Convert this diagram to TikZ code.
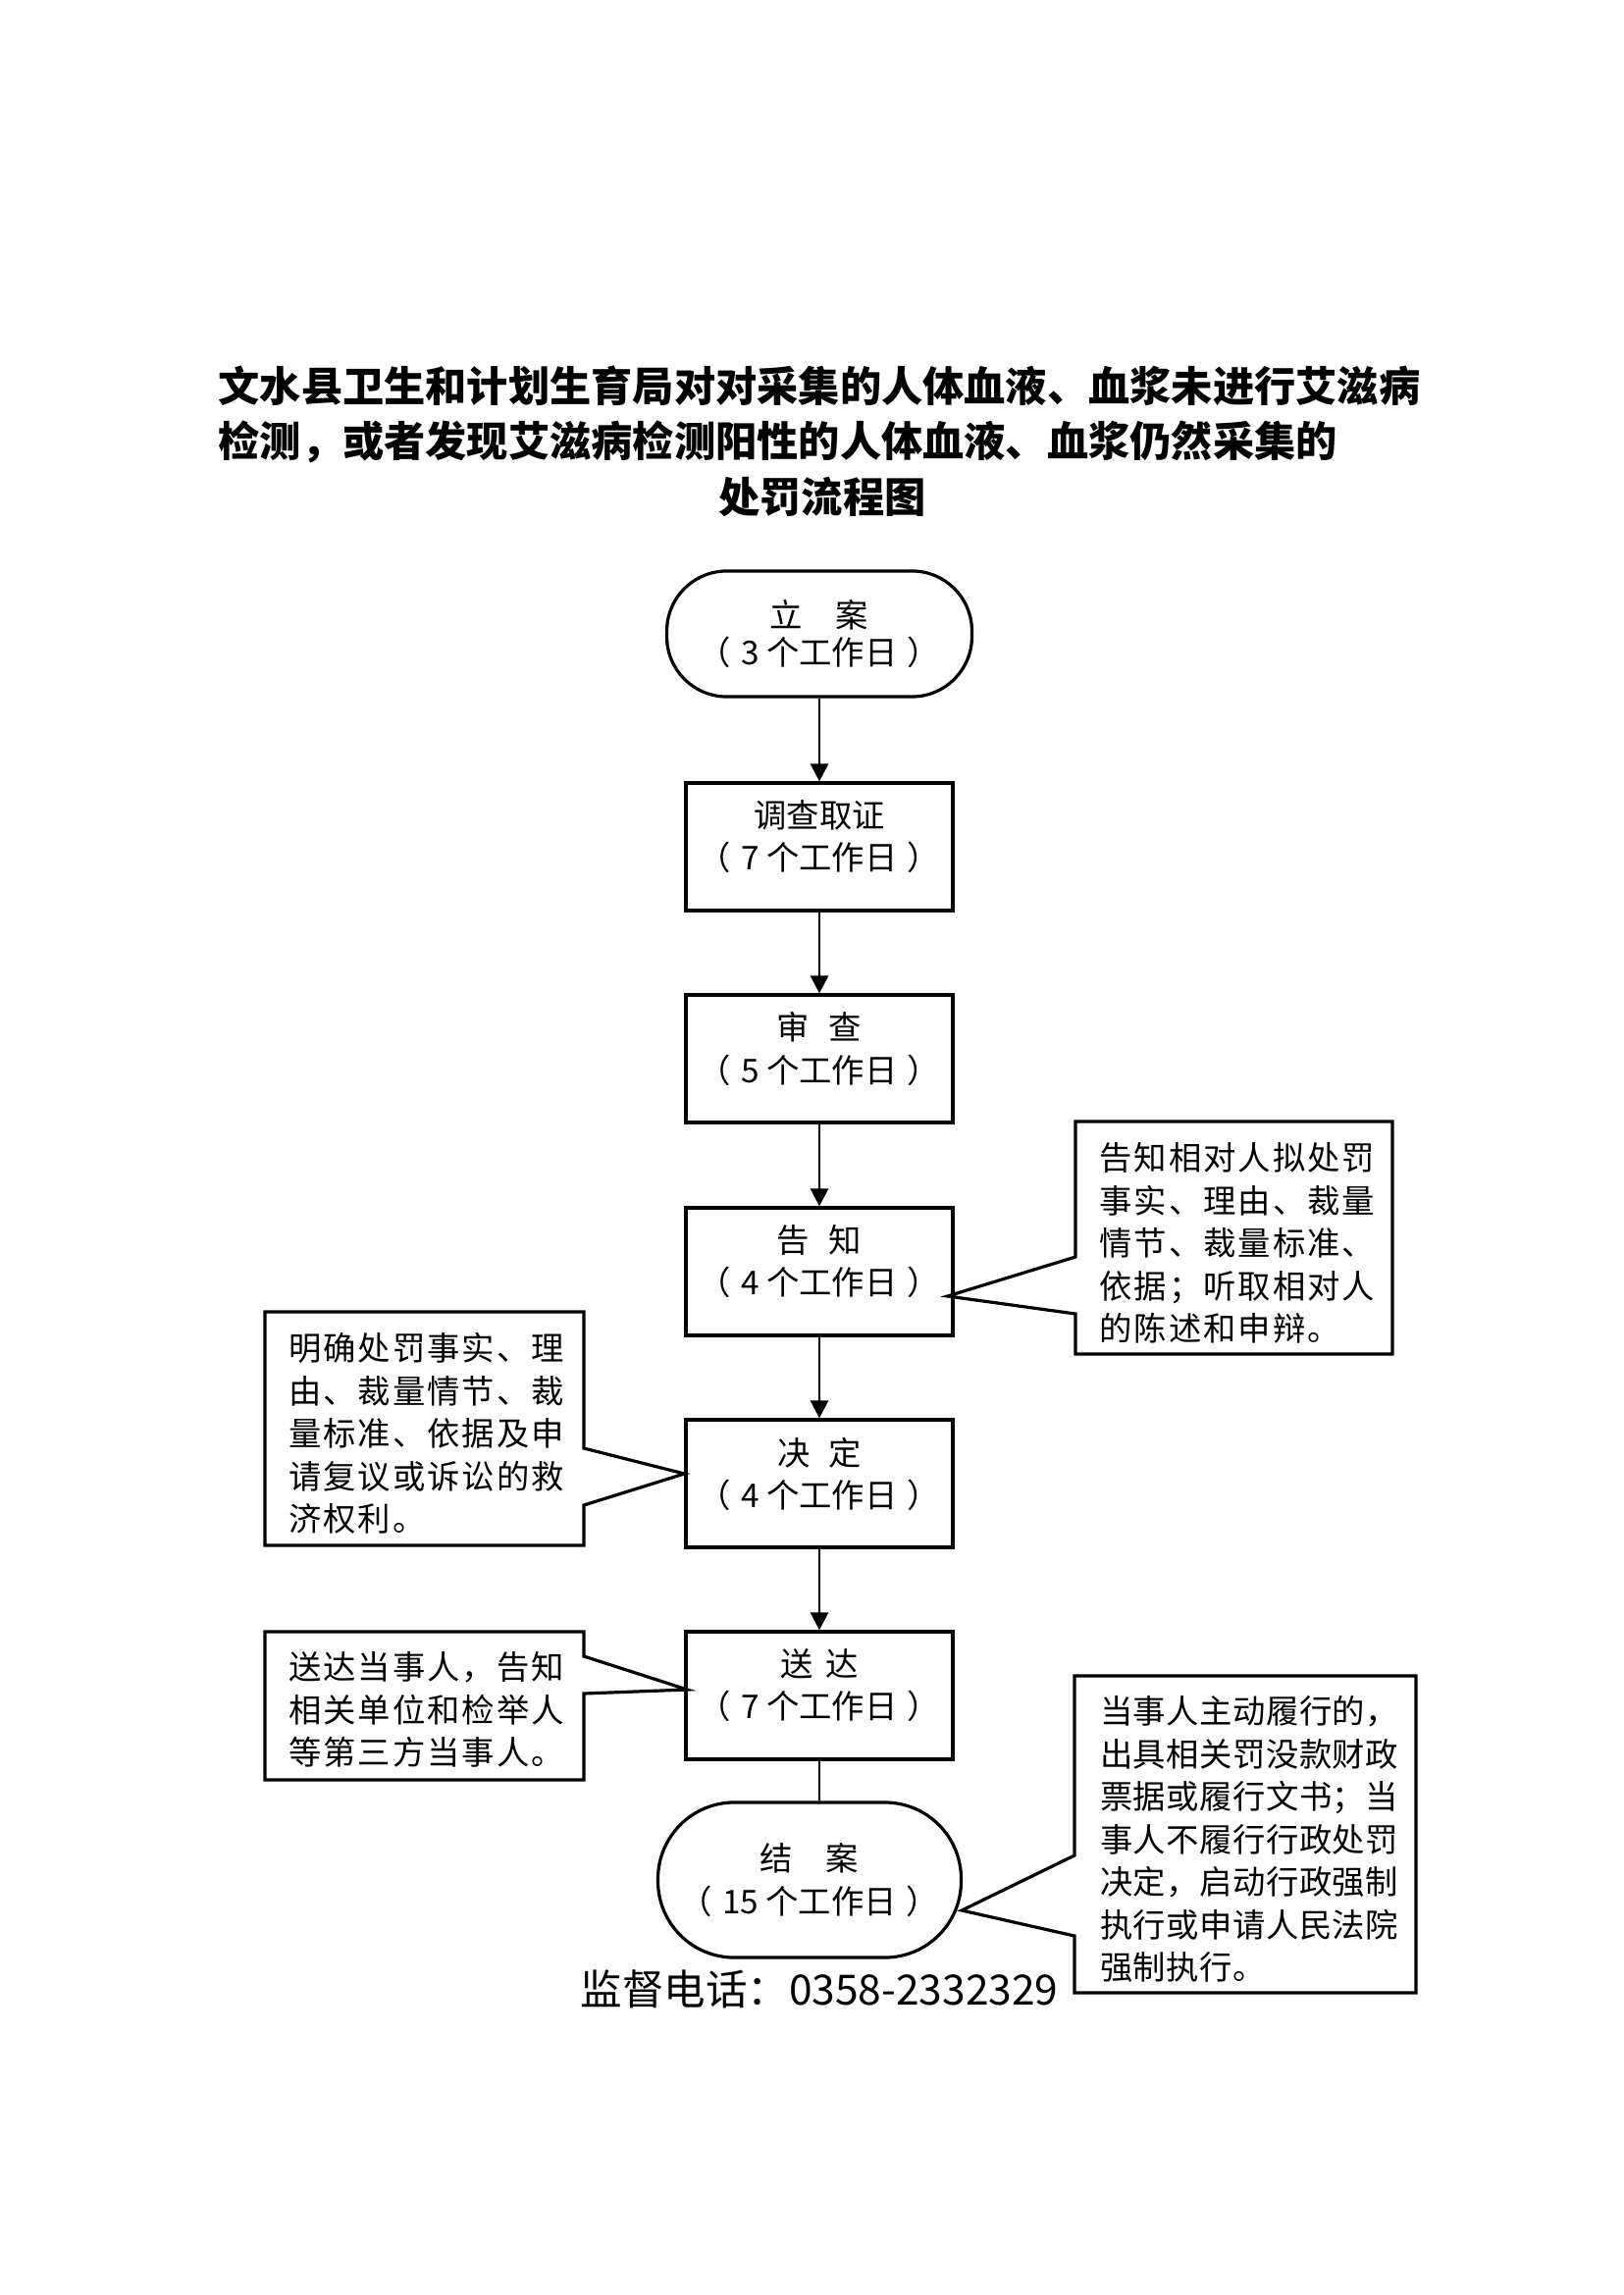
\documentclass[tikz,border=0pt]{standalone}
\usepackage{fontspec}
\setmainfont{Noto Sans CJK SC}
\newfontfamily\callfont{Noto Sans CJK SC}[LetterSpace=6]
\newfontfamily\callfontb{Noto Sans CJK SC}[LetterSpace=1.5]
\usetikzlibrary{arrows.meta,calc}
\newcommand{\pgap}{\hspace{0.3em}}
\begin{document}
\begin{tikzpicture}[x=0.35991pt,y=-0.35991pt,
  stepbox/.style={draw,line width=1.15pt,minimum width=97.9pt,minimum height=46.8pt,inner sep=0pt},
  startbox/.style={draw,line width=1.15pt,minimum width=111.9pt,minimum height=46.1pt,inner sep=0pt,rounded corners=22pt,
    align=center,font=\fontsize{12pt}{14pt}\selectfont},
  endbox/.style={draw,line width=1.15pt,minimum width=111.2pt,minimum height=56.9pt,inner sep=0pt,rounded corners=28pt,
    align=center,font=\fontsize{12pt}{16pt}\selectfont},
  boxtext/.style={align=center,inner sep=0pt,font=\fontsize{12pt}{15.5pt}\selectfont},
  calltext/.style={align=left,anchor=north west,inner sep=0pt,font=\callfont\fontsize{12pt}{15.66pt}\selectfont},
  calltextb/.style={align=left,anchor=north west,inner sep=0pt,font=\callfontb\fontsize{12pt}{15.66pt}\selectfont},
  callout/.style={draw,line width=1.15pt,line join=miter},
  flow/.style={line width=1pt,-{Triangle[width=6.5pt,length=6.5pt]}},
  plain/.style={line width=1pt},
  titletext/.style={inner sep=0pt,font=\fontsize{15.2pt}{20.5pt}\selectfont\bfseries},
]
\fill[white] (0,0) rectangle (1654,2339);
\useasboundingbox (0,0) rectangle (1654,2339);

% title
\node[titletext,anchor=west,align=left] (t1) at (222,393) {文水县卫生和计划生育局对对采集的人体血液、血浆未进行艾滋病};
\node[titletext,anchor=west,align=left] (t2) at (222,450) {检测，或者发现艾滋病检测阳性的人体血液、血浆仍然采集的};
\node[titletext] (t3) at (838,507) {处罚流程图};

% main flow
\node[startbox] (la) at (835,646) {立\hspace{1em}案\\（\pgap 3 个工作日\pgap ）};
\node[stepbox] (dc) at (835,863) {};
\node[boxtext] (dct) at ($(dc.center)+(0,-10)$) {调查取证\\（\pgap 7 个工作日\pgap ）};
\node[stepbox] (sc) at (835,1079) {};
\node[boxtext] (sct) at ($(sc.center)+(0,-10)$) {审\hspace{0.6em}查\\（\pgap 5 个工作日\pgap ）};
\node[stepbox] (gz) at (835,1296) {};
\node[boxtext] (gzt) at ($(gz.center)+(0,-10)$) {告\hspace{0.6em}知\\（\pgap 4 个工作日\pgap ）};
\node[stepbox] (jd) at (835,1512) {};
\node[boxtext] (jdt) at ($(jd.center)+(0,-10)$) {决\hspace{0.55em}定\\（\pgap 4 个工作日\pgap ）};
\node[stepbox] (sd) at (835,1728) {};
\node[boxtext] (sdt) at ($(sd.center)+(0,-10)$) {送\hspace{0.4em}达\\（\pgap 7 个工作日\pgap ）};
\node[endbox] (ja) at (825,1916) {结\hspace{1em}案\\（\pgap 15 个工作日\pgap ）};

\draw[flow] (la.south) -- (dc.north);
\draw[flow] (dc.south) -- (sc.north);
\draw[flow] (sc.south) -- (gz.north);
\draw[flow] (gz.south) -- (jd.north);
\draw[flow] (jd.south) -- (sd.north);
\draw[plain] (sd.south) -- (sd.south |- ja.north);

% callouts
\coordinate (tipA) at ($(gz.east)+(-7,25)$);
\draw[callout] (1096,1143) -- (1419,1143) -- (1419,1380) -- (1096,1380) -- (1096,1339) -- (tipA) -- (1096,1281) -- cycle;
\node[calltext] (ca) at (1120,1164) {告知相对人拟处罚\\事实、理由、裁量\\情节、裁量标准、\\依据；听取相对人\\的陈述和申辩。};

\coordinate (tipB) at ($(jd.west)+(0,-10)$);
\draw[callout] (270,1337) -- (595,1337) -- (595,1476) -- (tipB) -- (595,1534) -- (595,1575) -- (270,1575) -- cycle;
\node[calltext] (cb) at (293.5,1358) {明确处罚事实、理\\由、裁量情节、裁\\量标准、依据及申\\请复议或诉讼的救\\济权利。};

\coordinate (tipC) at ($(sd.west)+(3,-6)$);
\draw[callout] (270,1663) -- (595,1663) -- (595,1688) -- (tipC) -- (595,1726) -- (595,1814) -- (270,1814) -- cycle;
\node[calltext] (cc) at (293.5,1683) {送达当事人，告知\\相关单位和检举人\\等第三方当事人。};

\coordinate (tipD) at ($(ja.east)+(-1,31)$);
\draw[callout] (1095,1708) -- (1443,1708) -- (1443,2031) -- (1095,2031) -- (1095,1973) -- (tipD) -- (1095,1891) -- cycle;
\node[calltextb] (cd) at (1120.5,1728) {当事人主动履行的，\\出具相关罚没款财政\\票据或履行文书；当\\事人不履行行政处罚\\决定，启动行政强制\\执行或申请人民法院\\强制执行。};

% phone
\node[inner sep=0pt,font=\fontsize{15.3pt}{18pt}\selectfont] (ph) at (835,2027) {监督电话：0358-2332329};
\end{tikzpicture}
\end{document}
